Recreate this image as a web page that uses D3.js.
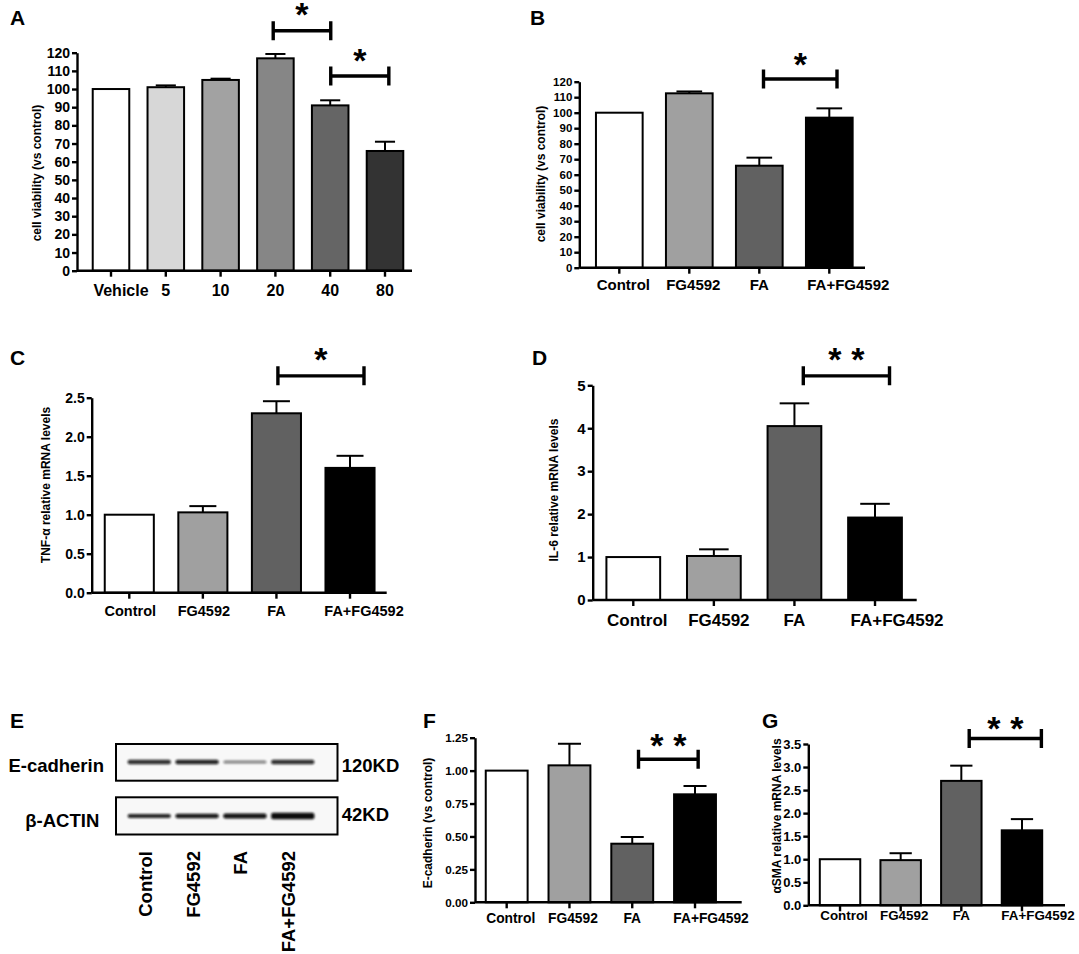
<!DOCTYPE html>
<html>
<head>
<meta charset="utf-8">
<title>FG4592 figure</title>
<script src="https://d3js.org/d3.v7.min.js"></script>
<style>
    body { margin: 0; background: #fff; }
    svg {
        display: block;
        font-family: "Liberation Sans", Arial, sans-serif;
        font-weight: bold;
    }
    .axis path, .axis line { stroke: #000; stroke-width: 2.4px; }
    .axis text { fill: #000; font-weight: bold; }
</style>
</head>
<body>
<div id="chart"></div>
<script>
    // values
    const doses = ["Vehicle", "5", "10", "20", "40", "80"];
    const groups = ["Control", "FG4592", "FA", "FA+FG4592"];

    const viabilityDose = [100, 101, 105, 116.9, 91, 65.9];
    const viabilityDoseErr = [0, 1, 0.7, 2.4, 2.8, 5.1];
    const viabilityTreat = [100, 112.5, 65.8, 96.8];
    const viabilityTreatErr = [0, 1.2, 5.2, 6.0];
    const tnfMrna = [1.0, 1.03, 2.30, 1.60];
    const tnfErr = [0, 0.08, 0.155, 0.155];
    const il6Mrna = [1.0, 1.025, 4.05, 1.92];
    const il6Err = [0, 0.155, 0.53, 0.32];
    const ecadProtein = [1.0, 1.04, 0.445, 0.82];
    const ecadErr = [0, 0.164, 0.051, 0.063];
    const smaMrna = [1.0, 0.98, 2.70, 1.627];
    const smaErr = [0, 0.15, 0.33, 0.243];

    // western blot band strength per lane
    const ecadBands = [0.85, 0.9, 0.5, 0.85];
    const actinBands = [0.9, 0.95, 0.97, 1.0];
    const blotRows = ["E-cadherin", "β-ACTIN"];
    const blotSizes = ["120KD", "42KD"];

    const doseFills = ["#ffffff", "#d7d7d7", "#a2a2a2", "#868686", "#656565", "#333333"];
    const groupFills = ["#ffffff", "#a0a0a0", "#616161", "#000000"];

    const width = 1079, height = 954;
    const svg = d3.select('#chart').append('svg')
        .attr('width', width)
        .attr('height', height);

    const defs = svg.append('defs');
    defs.append('filter').attr('id', 'blur')
        .attr('x', '-20%').attr('y', '-100%').attr('width', '140%').attr('height', '300%')
        .append('feGaussianBlur').attr('stdDeviation', 1.1);

    const panels = [
        { letter: "A", lx: 10, ly: 25, cats: doses, vals: viabilityDose, errs: viabilityDoseErr, fills: doseFills,
          ymax: 120, ystep: 10, fmt: d3.format("d"), title: "cell viability (vs control)",
          ax: 77, axEnd: 412, y0: 270.7, yTop: 52.7, band: [83.6, 412.4], tx: 37, ty: 173,
          yFont: 14, xFont: 16, xDy: 25, labelDx: [10, 0, 0, 0, 0, 0],
          sig: [{ from: 2.96, to: 4.01, level: 132.1, n: 1, up: 21.5 }, { from: 4.01, to: 5.07, level: 107.2, n: 1, up: 21 }] },
        { letter: "B", lx: 530, ly: 25, cats: groups, vals: viabilityTreat, errs: viabilityTreatErr, fills: groupFills,
          ymax: 120, ystep: 10, fmt: d3.format("d"), title: "cell viability (vs control)",
          ax: 579.3, axEnd: 865, y0: 267.7, yTop: 81.7, band: [584.3, 864.3], tx: 541, ty: 174,
          yFont: 11.5, xFont: 15, xDy: 22, labelDx: [4, 4, 0, 19],
          sig: [{ from: 2.06, to: 3.11, level: 121.7, n: 1, up: 20 }] },
        { letter: "C", lx: 10, ly: 365, cats: groups, vals: tnfMrna, errs: tnfErr, fills: groupFills,
          ymax: 2.5, ystep: 0.5, fmt: d3.format(".1f"), title: "TNF-α relative mRNA levels",
          ax: 91.7, axEnd: 386.7, y0: 592.7, yTop: 397.7, band: [92.5, 386.8], tx: 46, ty: 485,
          yFont: 14, xFont: 14.5, xDy: 23, labelDx: [1, 1, 0, 14],
          sig: [{ from: 2.02, to: 3.19, level: 2.78, n: 1, up: 21.7 }] },
        { letter: "D", lx: 532, ly: 365, cats: groups, vals: il6Mrna, errs: il6Err, fills: groupFills,
          ymax: 5, ystep: 1, fmt: d3.format("d"), title: "IL-6 relative mRNA levels",
          ax: 592.7, axEnd: 916.7, y0: 600, yTop: 385.3, band: [593, 915.3], tx: 554, ty: 490,
          yFont: 15, xFont: 17, xDy: 26, labelDx: [4, 5, 0, 22],
          sig: [{ from: 2.11, to: 3.18, level: 5.22, n: 2, up: 21.7 }] },
        { letter: "F", lx: 423, ly: 728, cats: groups, vals: ecadProtein, errs: ecadErr, fills: groupFills,
          ymax: 1.25, ystep: 0.25, fmt: d3.format(".2f"), title: "E-cadherin (vs control)",
          ax: 475, axEnd: 741.7, y0: 902.3, yTop: 737.7, band: [475.3, 726.4], tx: 428, ty: 823,
          yFont: 11.7, xFont: 13.8, xDy: 21, labelDx: [4, 3.5, 0, 16],
          sig: [{ from: 2.10, to: 3.05, level: 1.086, n: 2, up: 19.3 }] },
        { letter: "G", lx: 762, ly: 728, cats: groups, vals: smaMrna, errs: smaErr, fills: groupFills,
          ymax: 3.5, ystep: 0.5, fmt: d3.format(".1f"), title: "αSMA relative mRNA levels",
          ax: 808.3, axEnd: 1065, y0: 905.3, yTop: 744, band: [809.7, 1052.3], tx: 777, ty: 816,
          yFont: 13, xFont: 13.4, xDy: 15, labelDx: [4, 3.5, 0, 16],
          sig: [{ from: 2.13, to: 3.32, level: 3.62, n: 2, up: 15 }] }
    ];

    panels.forEach(drawPanel);
    drawBlot();

    function drawPanel(p) {
        const g = svg.append('g');
        const x = d3.scaleBand().domain(p.cats).range(p.band)
            .paddingInner(0.333).paddingOuter(0.1665);
        const y = d3.scaleLinear().domain([0, p.ymax]).range([p.y0, p.yTop]);
        const step = x.step();
        const firstCenter = x(p.cats[0]) + x.bandwidth() / 2;
        const centerAt = t => firstCenter + t * step;

        g.append('text').attr('x', p.lx).attr('y', p.ly)
            .attr('font-size', 21).text(p.letter);

        // bars
        const rows = p.cats.map((c, i) => ({ c, v: p.vals[i], e: p.errs[i], f: p.fills[i] }));
        g.selectAll('rect.bar').data(rows).join('rect')
            .attr('class', 'bar')
            .attr('x', d => x(d.c))
            .attr('width', x.bandwidth())
            .attr('y', d => y(d.v))
            .attr('height', d => y(0) - y(d.v))
            .attr('fill', d => d.f)
            .attr('stroke', '#000')
            .attr('stroke-width', 2);

        // error bars (upper whisker only)
        const capW = x.bandwidth() * 0.55;
        const err = g.selectAll('g.err').data(rows.filter(d => d.e > 0)).join('g').attr('class', 'err');
        err.append('line')
            .attr('x1', d => x(d.c) + x.bandwidth() / 2).attr('x2', d => x(d.c) + x.bandwidth() / 2)
            .attr('y1', d => y(d.v)).attr('y2', d => y(d.v + d.e))
            .attr('stroke', '#000').attr('stroke-width', 2);
        err.append('line')
            .attr('x1', d => x(d.c) + x.bandwidth() / 2 - capW / 2)
            .attr('x2', d => x(d.c) + x.bandwidth() / 2 + capW / 2)
            .attr('y1', d => y(d.v + d.e)).attr('y2', d => y(d.v + d.e))
            .attr('stroke', '#000').attr('stroke-width', 2);

        // y axis
        const yAxis = g.append('g').attr('class', 'axis')
            .attr('transform', `translate(${p.ax},0)`)
            .call(d3.axisLeft(y).tickValues(d3.range(0, p.ymax + p.ystep / 2, p.ystep))
                .tickFormat(p.fmt).tickSize(5).tickSizeOuter(0).tickPadding(2));
        yAxis.selectAll('text').attr('font-size', p.yFont);

        // x axis
        g.append('line')
            .attr('x1', p.ax).attr('x2', p.axEnd)
            .attr('y1', p.y0).attr('y2', p.y0)
            .attr('stroke', '#000').attr('stroke-width', 2.4);
        const xAxis = g.append('g').attr('class', 'axis')
            .attr('transform', `translate(0,${p.y0})`)
            .call(d3.axisBottom(x).tickSize(6).tickSizeOuter(0));
        xAxis.select('.domain').remove();
        xAxis.selectAll('text')
            .attr('font-size', p.xFont)
            .attr('y', null).attr('dy', null)
            .attr('transform', (d, i) => `translate(${p.labelDx[i]},${p.xDy})`);

        // y title
        g.append('text')
            .attr('transform', `translate(${p.tx},${p.ty}) rotate(-90)`)
            .attr('text-anchor', 'middle')
            .attr('dy', '0.35em')
            .attr('font-size', 12)
            .text(p.title);

        // significance brackets
        p.sig.forEach(s => {
            const x1 = centerAt(s.from), x2 = centerAt(s.to), yy = y(s.level);
            const h = 9.5;
            g.append('path')
                .attr('d', `M${x1},${yy - h}V${yy + h}M${x1},${yy}H${x2}M${x2},${yy - h}V${yy + h}`)
                .attr('fill', 'none').attr('stroke', '#000').attr('stroke-width', 3.4);
            const mid = (x1 + x2) / 2;
            const offs = s.n === 1 ? [0] : [-11.5, 11.5];
            offs.forEach(o => {
                g.append('text')
                    .attr('x', mid + o)
                    .attr('y', yy - s.up + 17)
                    .attr('text-anchor', 'middle')
                    .attr('font-size', 34)
                    .text('*');
            });
        });
    }

    function drawBlot() {
        const g = svg.append('g');
        g.append('text').attr('x', 10).attr('y', 728).attr('font-size', 21).text('E');

        const lane = d3.scaleBand().domain(groups).range([121, 321]).padding(0.18);
        const boxes = [{ top: 744, bot: 780.7, bandY: 762, thick: [4.5, 4.5, 3, 4.5], s: ecadBands },
                       { top: 797.3, bot: 834.5, bandY: 816, thick: [4, 4.5, 5, 6.5], s: actinBands }];

        boxes.forEach((b, r) => {
            g.append('rect')
                .attr('x', 116).attr('y', b.top)
                .attr('width', 337.5 - 116).attr('height', b.bot - b.top)
                .attr('fill', '#f8f8f8').attr('stroke', '#000').attr('stroke-width', 2);
            g.selectAll(null).data(groups).join('rect')
                .attr('x', d => lane(d) - 2)
                .attr('width', lane.bandwidth() + 4)
                .attr('y', (d, i) => b.bandY - b.thick[i] / 2)
                .attr('height', (d, i) => b.thick[i])
                .attr('rx', 2)
                .attr('fill', '#0a0a0a')
                .attr('opacity', (d, i) => b.s[i])
                .attr('filter', 'url(#blur)');
            g.append('text')
                .attr('x', r === 0 ? 104 : 99.3)
                .attr('y', r === 0 ? 771.7 : 826.7)
                .attr('text-anchor', 'end')
                .attr('font-size', 18.5)
                .text(blotRows[r]);
            g.append('text')
                .attr('x', 341.7)
                .attr('y', r === 0 ? 771.7 : 821)
                .attr('font-size', 18.5)
                .text(blotSizes[r]);
        });

        g.selectAll('text.lane').data(groups).join('text')
            .attr('class', 'lane')
            .attr('transform', d => `translate(${lane(d) + lane.bandwidth() / 2 - 4},851) rotate(-90)`)
            .attr('text-anchor', 'end')
            .attr('dy', '0.35em')
            .attr('font-size', 18.5)
            .text(d => d);
    }
</script>
</body>
</html>
